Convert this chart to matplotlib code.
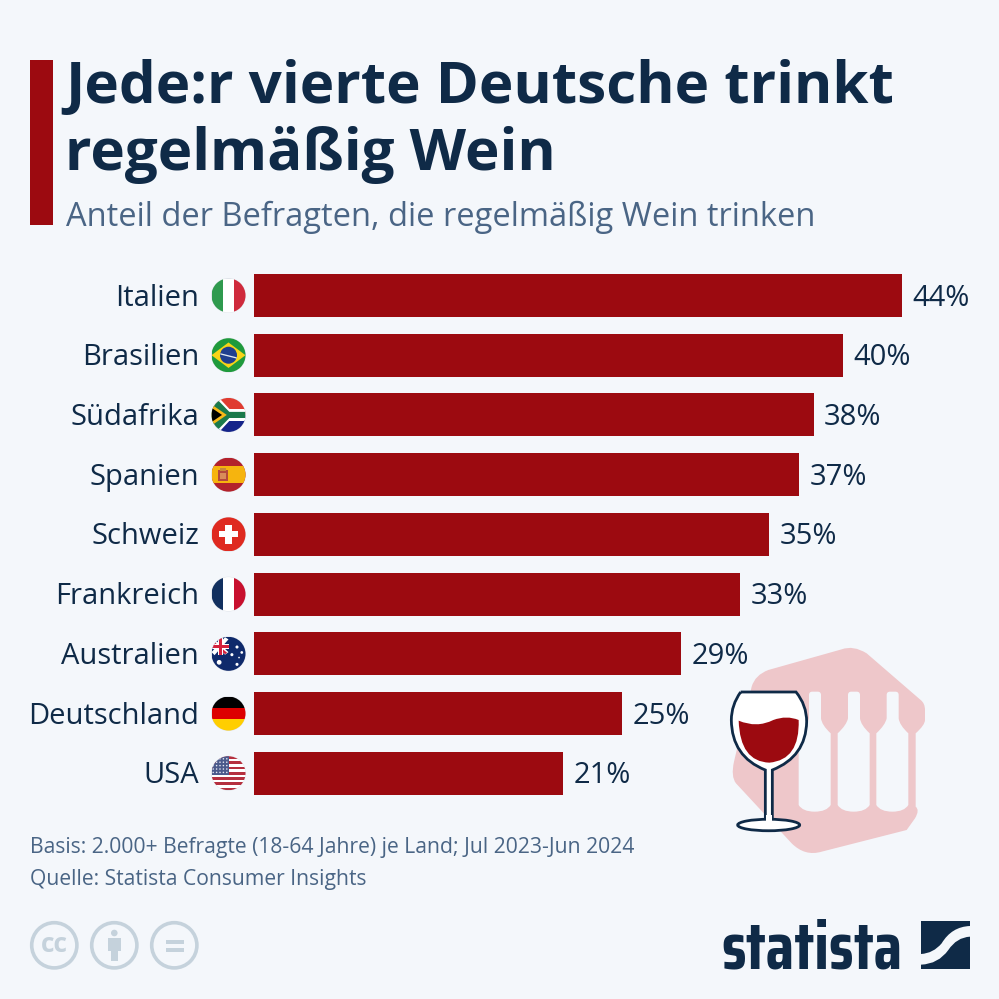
# -*- coding: utf-8 -*-

import numpy as np
import matplotlib
matplotlib.use('Agg')
import matplotlib.pyplot as plt
from matplotlib.patches import Circle, Rectangle, Polygon, PathPatch, Ellipse
from matplotlib.path import Path
from matplotlib.transforms import Affine2D

countries = ['Italien', 'Brasilien', 'Südafrika', 'Spanien', 'Schweiz',
             'Frankreich', 'Australien', 'Deutschland', 'USA']
values = [44, 40, 38, 37, 35, 33, 29, 25, 21]

title_lines = ['Jede:r vierte Deutsche trinkt', 'regelmäßig Wein']
subtitle = 'Anteil der Befragten, die regelmäßig Wein trinken'
footer_lines = ['Basis: 2.000+ Befragte (18-64 Jahre) je Land; Jul 2023-Jun 2024',
                'Quelle: Statista Consumer Insights']

BG = '#f4f7fb'
NAVY = '#0f2a47'
RED = '#9c0a10'
SLATE = '#4a6585'
GREY = '#c5d2dc'
FONT = 'Open Sans'

W = 999.0
fig = plt.figure(figsize=(9.99, 9.99), dpi=100, facecolor=BG)

deco = fig.add_axes([0, 0, 1, 1], zorder=0)
deco.set_xlim(0, W)
deco.set_ylim(W, 0)
deco.axis('off')

row = 59.72
first = 295.5
top_px = first - row / 2
bottom_px = first + row * 8.5
ax = fig.add_axes([254 / W, 1 - bottom_px / W, 648 / W, (bottom_px - top_px) / W], zorder=1)
ax.patch.set_alpha(0)
y = np.arange(len(countries))
bars = ax.barh(y, values, height=43 / row, color=RED)
ax.set_xlim(0, 44)
ax.set_ylim(8.5, -0.5)
ax.set_xticks([])
ax.set_yticks(y)
ax.set_yticklabels(countries, fontsize=21, color=NAVY, family=FONT)
ax.tick_params(axis='y', length=0, pad=39.5)
for s in ax.spines.values():
    s.set_visible(False)
# labels sit one pixel higher than the bar centre
for t in ax.get_yticklabels():
    t.set_transform(t.get_transform() + Affine2D().translate(0, 1))
for t in ax.bar_label(bars, labels=['%d%%' % v for v in values], padding=7.5,
                      fontsize=21, color=NAVY, family=FONT):
    t.set_va('center_baseline')
    t.xyann = (t.xyann[0], 0.7)

# header
deco.add_patch(Rectangle((30, 60), 23, 165, color=RED, lw=0))
deco.text(65, 103, title_lines[0], fontsize=42, fontweight='bold', color=NAVY, family=FONT)
deco.text(65, 170, title_lines[1], fontsize=42, fontweight='bold', color=NAVY, family=FONT)
deco.text(66, 226, subtitle, fontsize=23.5, color=SLATE, family=FONT)

# footer
deco.text(30, 853, footer_lines[0], fontsize=15.2, color=SLATE, family=FONT)
deco.text(30, 885, footer_lines[1], fontsize=15.2, color=SLATE, family=FONT)


# flags
def flag_parts(cy):
    cx, r = 228.5, 17.0
    clip = Circle((cx, cy), r, transform=deco.transData)
    deco.add_patch(Circle((cx, cy), r + 0.4, facecolor='#dfe3e9', lw=0))

    def rect(u0, v0, u1, v1, color):
        p = Rectangle((cx + u0 * r, cy + v0 * r), (u1 - u0) * r, (v1 - v0) * r, color=color, lw=0)
        deco.add_patch(p)
        p.set_clip_path(clip)

    def poly(pts, color):
        p = Polygon([(cx + u * r, cy + v * r) for u, v in pts], closed=True, color=color, lw=0)
        deco.add_patch(p)
        p.set_clip_path(clip)

    def dot(u, v, rad, color):
        p = Circle((cx + u * r, cy + v * r), rad * r, color=color, lw=0)
        deco.add_patch(p)
        p.set_clip_path(clip)

    return rect, poly, dot


def row_y(i):
    return first + row * i


# Italien
rect, poly, dot = flag_parts(row_y(0))
rect(-1, -1, -0.33, 1, '#2f9a4e')
rect(-0.33, -1, 0.33, 1, '#ffffff')
rect(0.33, -1, 1, 1, '#cf2a3c')

# Brasilien
rect, poly, dot = flag_parts(row_y(1))
rect(-1, -1, 1, 1, '#1f9a3c')
poly([(-1, 0), (0, -0.75), (1, 0), (0, 0.75)], '#f7d417')
dot(0, 0, 0.5, '#1f3f8f')
poly([(-0.48, -0.12), (0.48, 0.12), (0.48, 0.2), (-0.48, -0.04)], '#dfe8f0')

# Südafrika
rect, poly, dot = flag_parts(row_y(2))
rect(-1, -1, 1, 0, '#e03c31')
rect(-1, 0, 1, 1, '#14248a')
rect(-1, -0.36, 1, 0.36, '#ffffff')
poly([(-1, -1), (-0.55, -1), (0.1, -0.3), (1, -0.3), (1, 0.3), (0.1, 0.3), (-0.55, 1), (-1, 1)], '#ffffff')
poly([(-1, -0.85), (-0.75, -1), (0.05, -0.18), (1, -0.18), (1, 0.18), (0.05, 0.18), (-0.75, 1), (-1, 0.85)], '#1b7a4b')
poly([(-1, -0.62), (-0.1, 0), (-1, 0.62)], '#f7b817')
poly([(-1, -0.42), (-0.38, 0), (-1, 0.42)], '#000000')

# Spanien
rect, poly, dot = flag_parts(row_y(3))
rect(-1, -1, 1, 1, '#b3212b')
rect(-1, -0.5, 1, 0.5, '#f6b40e')
rect(-0.62, -0.28, -0.02, 0.36, '#b5493c')
rect(-0.52, -0.38, -0.12, -0.22, '#c98a3a')
rect(-0.5, -0.1, -0.14, 0.28, '#d98c5a')

# Schweiz
rect, poly, dot = flag_parts(row_y(4))
rect(-1, -1, 1, 1, '#df2a20')
rect(-0.55, -0.18, 0.55, 0.18, '#ffffff')
rect(-0.18, -0.55, 0.18, 0.55, '#ffffff')

# Frankreich
rect, poly, dot = flag_parts(row_y(5))
rect(-1, -1, -0.33, 1, '#12305f')
rect(-0.33, -1, 0.33, 1, '#ffffff')
rect(0.33, -1, 1, 1, '#c8102e')

# Australien
rect, poly, dot = flag_parts(row_y(6))
rect(-1, -1, 1, 1, '#0f2a6b')
poly([(-1, -0.62), (-0.76, -0.8), (0, -0.1), (-0.2, 0.05)], '#ffffff')
poly([(0, -0.85), (-0.2, -0.98), (-1, -0.1), (-0.82, 0.08)], '#ffffff')
poly([(-1, -0.56), (-0.84, -0.7), (-0.08, -0.06), (-0.2, 0.02)], '#d4213d')
rect(-1, -0.58, 0, -0.3, '#ffffff')
rect(-0.62, -1, -0.34, 0.05, '#ffffff')
rect(-1, -0.52, 0, -0.36, '#d4213d')
rect(-0.56, -1, -0.4, 0.05, '#d4213d')
for u, v, s in [(-0.55, 0.5, 0.14), (0.2, 0.05, 0.09), (0.5, -0.4, 0.09), (0.78, -0.08, 0.08),
                (0.62, 0.22, 0.05), (0.5, 0.62, 0.09)]:
    dot(u, v, s, '#ffffff')

# Deutschland
rect, poly, dot = flag_parts(row_y(7))
rect(-1, -1, 1, -0.33, '#000000')
rect(-1, -0.33, 1, 0.33, '#dd0000')
rect(-1, 0.33, 1, 1, '#ffce00')

# USA
rect, poly, dot = flag_parts(row_y(8))
rect(-1, -1, 1, 1, '#ffffff')
for k in range(7):
    rect(-1, -1 + k * 2 / 6.5, 1, -1 + k * 2 / 6.5 + 2 / 13, '#b5303f')
rect(-1, -1, 0, 0.08, '#4b5a8c')
for u in np.arange(-0.9, 0, 0.2):
    for v in np.arange(-0.85, 0.05, 0.2):
        dot(u, v, 0.045, '#e6e9f2')


# wine decoration
def z(x, y):
    return (710 + x / 3, 630 + y / 3)


def curve_patch(commands, **kw):
    verts, codes = [], []
    for code, pts in commands:
        for p in pts:
            verts.append(z(*p))
            codes.append(code)
    p = PathPatch(Path(verts, codes), **kw)
    deco.add_patch(p)
    return p


M, L, C = Path.MOVETO, Path.LINETO, Path.CURVE3

curve_patch([
    (M, [(175, 120)]), (L, [(395, 58)]), (C, [(430, 45), (470, 70)]),
    (L, [(632, 210)]), (C, [(645, 220), (645, 240)]), (L, [(645, 270)]),
    (C, [(645, 285), (617, 310)]), (L, [(617, 530)]), (C, [(630, 540), (615, 565)]),
    (L, [(590, 600)]), (L, [(335, 665)]), (C, [(285, 680), (245, 640)]),
    (L, [(78, 460)]), (C, [(62, 440), (72, 395)]), (L, [(125, 170)]),
    (C, [(135, 135), (175, 120)]),
], facecolor='#eec7ca', lw=0)

for off in [0, 117, 233]:
    curve_patch([
        (M, [(297 + off, 195)]), (C, [(297 + off, 185), (307 + off, 185)]), (L, [(323 + off, 185)]),
        (C, [(333 + off, 185), (333 + off, 195)]), (L, [(333 + off, 265)]),
        (C, [(335 + off, 285), (362 + off, 310)]), (L, [(362 + off, 525)]),
        (C, [(350 + off, 545), (314 + off, 545)]), (C, [(278 + off, 545), (266 + off, 525)]),
        (L, [(266 + off, 310)]), (C, [(293 + off, 285), (297 + off, 265)]),
        (L, [(297 + off, 195)]),
    ], facecolor=BG, lw=0)

# glass bowl
curve_patch([
    (M, [(92, 186)]), (L, [(258, 186)]), (C, [(290, 225), (290, 275)]),
    (C, [(288, 380), (187, 420)]), (L, [(187, 565)]), (L, [(166, 565)]), (L, [(166, 420)]),
    (C, [(65, 380), (64, 270)]), (C, [(64, 225), (92, 186)]),
], facecolor='#ffffff', edgecolor=NAVY, lw=2.0, zorder=3)
deco.add_patch(Ellipse(z(176, 585), 62, 11.5, facecolor='#ffffff', edgecolor=NAVY, lw=2.0, zorder=3))
deco.add_patch(Rectangle(z(168.5, 555), 5.5, 9, color='#ffffff', lw=0, zorder=4))
# wine
curve_patch([
    (M, [(86, 272)]), (C, [(140, 295), (190, 270)]), (C, [(230, 255), (266, 270)]),
    (C, [(270, 390), (178, 398)]), (C, [(90, 395), (86, 272)]),
], facecolor=RED, lw=0, zorder=5)

# cc icons
for cx in [54.3, 114.3, 174.3]:
    deco.add_patch(Circle((cx, 945.3), 22.6, facecolor='none', edgecolor=GREY, lw=2.6))
deco.text(54.3, 944.5, 'cc', fontsize=19, fontweight='bold', color=GREY, family=FONT,
          ha='center', va='center')
deco.add_patch(Circle((114.3, 933), 3.3, color=GREY, lw=0))
deco.add_patch(Polygon([(107.5, 938), (121, 938), (121, 951), (118, 951), (118, 961), (110.5, 961),
                        (110.5, 951), (107.5, 951)], closed=True, color=GREY, lw=0))
deco.add_patch(Rectangle((165.7, 940), 18, 4.3, color=GREY, lw=0))
deco.add_patch(Rectangle((165.7, 948), 18, 4.3, color=GREY, lw=0))

# statista logo
deco.text(721, 968.5, 'statista', fontsize=48, fontweight='bold', color=NAVY,
          family=['Saira Condensed', 'Roboto'], va='baseline', ha='left')
deco.add_patch(Rectangle((921, 921), 48.5, 48, color=NAVY, lw=0))
lz = lambda x, y: (700 + x / 3, 900 + y / 3)
band = Path([lz(663, 162), lz(700, 160), lz(725, 130), lz(755, 80), lz(810, 78),
             lz(810, 110), lz(770, 112), lz(745, 150), lz(715, 192), lz(663, 194), lz(663, 162)],
            [M, C, C, C, C, L, C, C, C, C, L])
deco.add_patch(PathPatch(band, facecolor=BG, lw=0))

fig.savefig('out.png', dpi=100, facecolor=BG)
